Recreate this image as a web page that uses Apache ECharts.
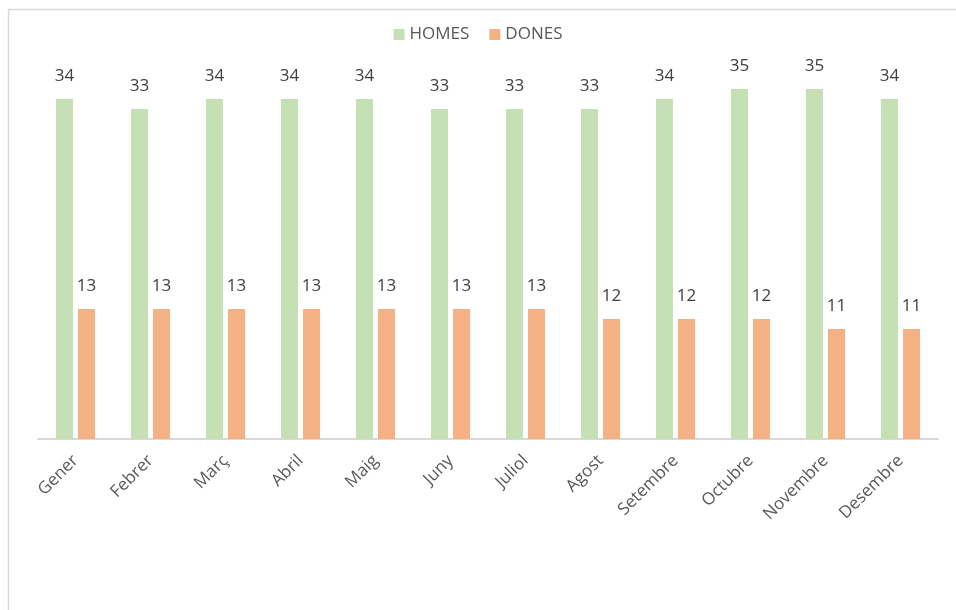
<!DOCTYPE html>
<html>
<head>
<meta charset="utf-8">
<script src="https://cdn.jsdelivr.net/npm/echarts@6/dist/echarts.min.js"></script>
<style>
  html, body { margin: 0; padding: 0; background: #fff; }
  #chart { width: 956px; height: 610px; }
</style>
</head>
<body>
<div id="chart"></div>
<script>
  // dades
  const mesos = ['Gener', 'Febrer', 'Març', 'Abril', 'Maig', 'Juny', 'Juliol', 'Agost', 'Setembre', 'Octubre', 'Novembre', 'Desembre']
  const homes = [34, 33, 34, 34, 34, 33, 33, 33, 34, 35, 35, 34]
  const dones = [13, 13, 13, 13, 13, 13, 13, 12, 12, 12, 11, 11]

  const textColor = '#595959'
  const fontFamily = '"Open Sans", "Noto Sans", sans-serif'

  const chart = echarts.init(document.getElementById('chart'))

  const labelCfg = {
    show: true,
    position: 'top',
    distance: 14,
    color: '#404040',
    fontSize: 17,
    fontFamily: fontFamily
  }

  chart.setOption({
    animation: false,
    graphic: [{
      type: 'rect',
      shape: { x: 8.5, y: 9.5, width: 1000, height: 700 },
      style: { fill: 'none', stroke: '#d9d9d9', lineWidth: 1.5 },
      silent: true
    }],
    legend: {
      top: 21,
      left: 'center',
      itemWidth: 11,
      itemHeight: 11,
      itemGap: 20,
      icon: 'rect',
      textStyle: { color: textColor, fontSize: 17, fontFamily: fontFamily },
      data: ['HOMES', 'DONES']
    },
    grid: { left: 38, width: 900, top: 39, height: 400, containLabel: false },
    xAxis: {
      type: 'category',
      data: mesos,
      axisLine: { lineStyle: { color: '#d9d9d9', width: 2 } },
      axisTick: { show: false },
      axisLabel: {
        rotate: 45,
        interval: 0,
        margin: 19,
        color: textColor,
        fontSize: 17,
        fontFamily: fontFamily
      }
    },
    yAxis: {
      type: 'value',
      min: 0,
      max: 40,
      show: false,
      splitLine: { show: false }
    },
    series: [
      {
        name: 'HOMES',
        type: 'bar',
        data: homes,
        barWidth: 17,
        barGap: '30%',
        itemStyle: { color: '#c5e0b4' },
        label: labelCfg
      },
      {
        name: 'DONES',
        type: 'bar',
        data: dones,
        barWidth: 17,
        barGap: '30%',
        itemStyle: { color: '#f4b183' },
        label: labelCfg
      }
    ]
  })
</script>
</body>
</html>
